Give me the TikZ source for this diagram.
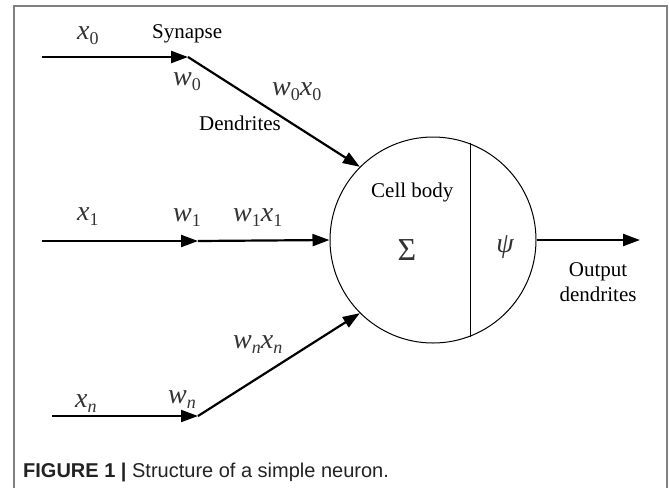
\documentclass[tikz,border=0pt]{standalone}
\usepackage{fontspec}
\setmainfont{Liberation Serif}
\newfontfamily\capfont{Liberation Sans}
\usetikzlibrary{arrows.meta}
\definecolor{framegray}{HTML}{808080}
\definecolor{labgray}{HTML}{333333}
\definecolor{capblack}{HTML}{222222}
% symbol with a lowered index
\newcommand{\sym}[2]{{\itshape #1}\raisebox{-0.2em}{\fontsize{18}{18}\selectfont #2}}

\begin{document}
\begin{tikzpicture}[x=1pt, y=-1pt,
    every node/.style={font=\fontsize{21}{25}\selectfont, inner sep=0pt},
    wire/.style={line width=2.2pt, -{Triangle[length=17pt,width=12pt]}},
    mathlab/.style={font=\fontsize{28}{30}\selectfont, text=labgray}]
    \useasboundingbox (0,0) rectangle (669,488);
    % frame
    \draw[framegray, line width=2pt] (14,488) -- (14,6) -- (667,6) -- (667,488);
    % cell body
    \node[draw, circle, minimum size=206pt, line width=1pt] (body) at (433,240) {};
    \draw[line width=1pt] (body.69) -- (body.-69);
    \node[mathlab, font=\fontsize{32}{32}\selectfont, text=labgray] (sum) at (407,250) {Σ};
    \node[mathlab] (psi) at (505,247) {\itshape ψ};
    \node[anchor=base west] (cellbody) at (371,197) {Cell body};
    % inputs
    \coordinate (in0) at (42,57);   \coordinate (syn0) at (188,57);
    \coordinate (in1) at (42,241);  \coordinate (syn1) at (198,241);
    \coordinate (inn) at (52,416);  \coordinate (synn) at (198,416);
    \foreach \i/\a in {0/135, 1/180, n/225}{
      \draw[wire] (in\i) -- (syn\i);
      \draw[wire] (syn\i) -- (body.\a);
    }
    % output
    \coordinate (out) at (640,240);
    \draw[wire] (body.east) -- (out);
    \node[align=center] (outlab) at (598,282) {Output\\dendrites};
    % labels
    \node[mathlab, anchor=base west] (x0) at (77,39) {\sym{x}{0}};
    \node[mathlab, anchor=base west] (w0) at (173,85) {\sym{w}{0}};
    \node[mathlab, anchor=base west] (w0x0) at (272,95) {\sym{w}{0}\sym{x}{0}};
    \node[anchor=base west] (synapse) at (152,38) {Synapse};
    \node[anchor=base west] (dendr) at (199,130) {Dendrites};
    \node[mathlab, anchor=base west] (x1) at (77,220) {\sym{x}{1}};
    \node[mathlab, anchor=base west] (w1) at (173,221) {\sym{w}{1}};
    \node[mathlab, anchor=base west] (w1x1) at (233,221) {\sym{w}{1}\sym{x}{1}};
    \node[mathlab, anchor=base west] (wnxn) at (233,348) {\sym{w}{\itshape n}\sym{x}{\itshape n}};
    \node[mathlab, anchor=base west] (xn) at (75,407) {\sym{x}{\itshape n}};
    \node[mathlab, anchor=base west] (wn) at (168,403) {\sym{w}{\itshape n}};
    % caption
    \node[anchor=base west, text=capblack, font=\capfont\fontsize{20}{20}\selectfont] (caption) at (23,477)
      {\textbf{FIGURE 1 |} Structure of a simple neuron.};
  \end{tikzpicture}
\end{document}
